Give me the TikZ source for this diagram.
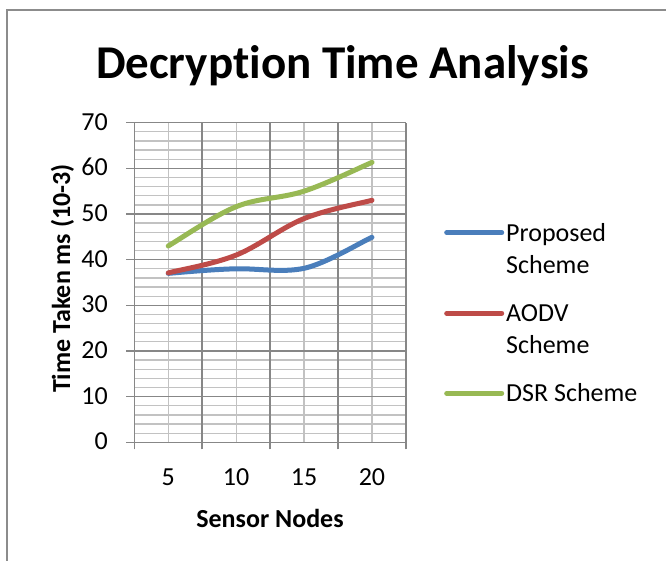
\documentclass[tikz,border=0pt]{standalone}
\usepackage{fontspec}
\setmainfont{Carlito}[Ligatures=NoCommon]
\definecolor{gridmajor}{HTML}{878787}
\definecolor{gridminor}{HTML}{C2C2C2}
\definecolor{framecol}{HTML}{8C8C8C}
\definecolor{serblue}{HTML}{4A7EBB}
\definecolor{serred}{HTML}{BE4B48}
\definecolor{sergreen}{HTML}{98B954}
\begin{document}
\begin{tikzpicture}[x=1pt,y=-1pt,
  majorline/.style={draw=gridmajor, line width=1.6pt},
  minorline/.style={draw=gridminor, line width=1.3pt},
  series/.style={line width=5pt, line cap=round, line join=round},
  lbl/.style={inner sep=0pt, font=\fontsize{26}{31.7}\selectfont},
  boldlbl/.style={inner sep=0pt, font=\fontsize{26}{31.7}\selectfont\bfseries},
  titlestyle/.style={inner sep=0pt, font=\fontsize{47}{56}\selectfont\bfseries}]
\fill[white] (0,0) rectangle (666,561);
\useasboundingbox (0,0) rectangle (666,561);
% outer frame
\draw[framecol, line width=1.5pt] (7,570) -- (7,10) -- (675,10);
% title
\node[titlestyle, anchor=base] (title) at (342.5,79) {Decryption Time Analysis};
% plot area
\begin{scope}[shift={(134.3,442.3)}, x=67.9pt, y=4.566pt]
  % minor gridlines
  \foreach \v in {2,4,6,8,12,14,16,18,22,24,26,28,32,34,36,38,42,44,46,48,52,54,56,58,62,64,66,68}
    \draw[minorline] (0,\v) -- (4,\v);
  \foreach \k in {0.5,1.5,2.5,3.5}
    \draw[minorline] (\k,0) -- (\k,70);
  % major gridlines with ticks
  \foreach \v in {0,10,...,70}{
    \draw[majorline] ([xshift=-8pt]0,\v) -- (4,\v);
    \node[lbl, anchor=base east] (yl\v) at ([xshift=-26.3pt,yshift=-7.6pt]0,\v) {\v};
  }
  \foreach \k in {0,1,2,3,4}
    \draw[majorline] ([yshift=-7pt]\k,0) -- (\k,70);
  % x labels
  \foreach \k/\lab in {0.5/5,1.5/10,2.5/15,3.5/20}
    \node[lbl, anchor=base] (xl\lab) at ([yshift=-42.7pt]\k,0) {\lab};
  % series: Proposed Scheme
  \draw[series, serblue] (0.5,37) .. controls (0.667,37.2) and (1.167,37.9) .. (1.5,38)
     .. controls (1.833,38.1) and (2.167,37.1) .. (2.5,38.1)
     .. controls (2.833,39.2) and (3.333,43.8) .. (3.5,44.9);
  % AODV Scheme
  \draw[series, serred] (0.5,37.1) .. controls (0.667,37.767) and (1.167,39) .. (1.5,41)
     .. controls (1.833,43) and (2.167,47) .. (2.5,49)
     .. controls (2.833,51) and (3.333,52.333) .. (3.5,53);
  % DSR Scheme
  \draw[series, sergreen] (0.5,43) .. controls (0.667,44.433) and (1.167,49.6) .. (1.5,51.6)
     .. controls (1.833,53.6) and (2.167,53.383) .. (2.5,55)
     .. controls (2.833,56.617) and (3.333,60.25) .. (3.5,61.3);
\end{scope}
% axis titles
\node[boldlbl, rotate=90, anchor=base] (ytitle) at (70,278.5) {Time Taken ms (10-3)};
\node[boldlbl, anchor=base] (xtitle) at (270,527) {Sensor Nodes};
% legend
\coordinate (lgA1) at (446.7,232.7); \coordinate (lgA2) at (501.7,232.7);
\coordinate (lgB1) at (446.7,313.3); \coordinate (lgB2) at (501.7,313.3);
\coordinate (lgC1) at (446.7,393.3); \coordinate (lgC2) at (501.7,393.3);
\draw[series, serblue] (lgA1) -- (lgA2);
\draw[series, serred] (lgB1) -- (lgB2);
\draw[series, sergreen] (lgC1) -- (lgC2);
\node[lbl, anchor=base west] (lgAt1) at (506,241.7) {Proposed};
\node[lbl, anchor=base west] (lgAt2) at (506,273.3) {Scheme};
\node[lbl, anchor=base west] (lgBt1) at (506,321.7) {AODV};
\node[lbl, anchor=base west] (lgBt2) at (506,353.3) {Scheme};
\node[lbl, anchor=base west] (lgCt1) at (506,401.7) {DSR Scheme};
\end{tikzpicture}
\end{document}
